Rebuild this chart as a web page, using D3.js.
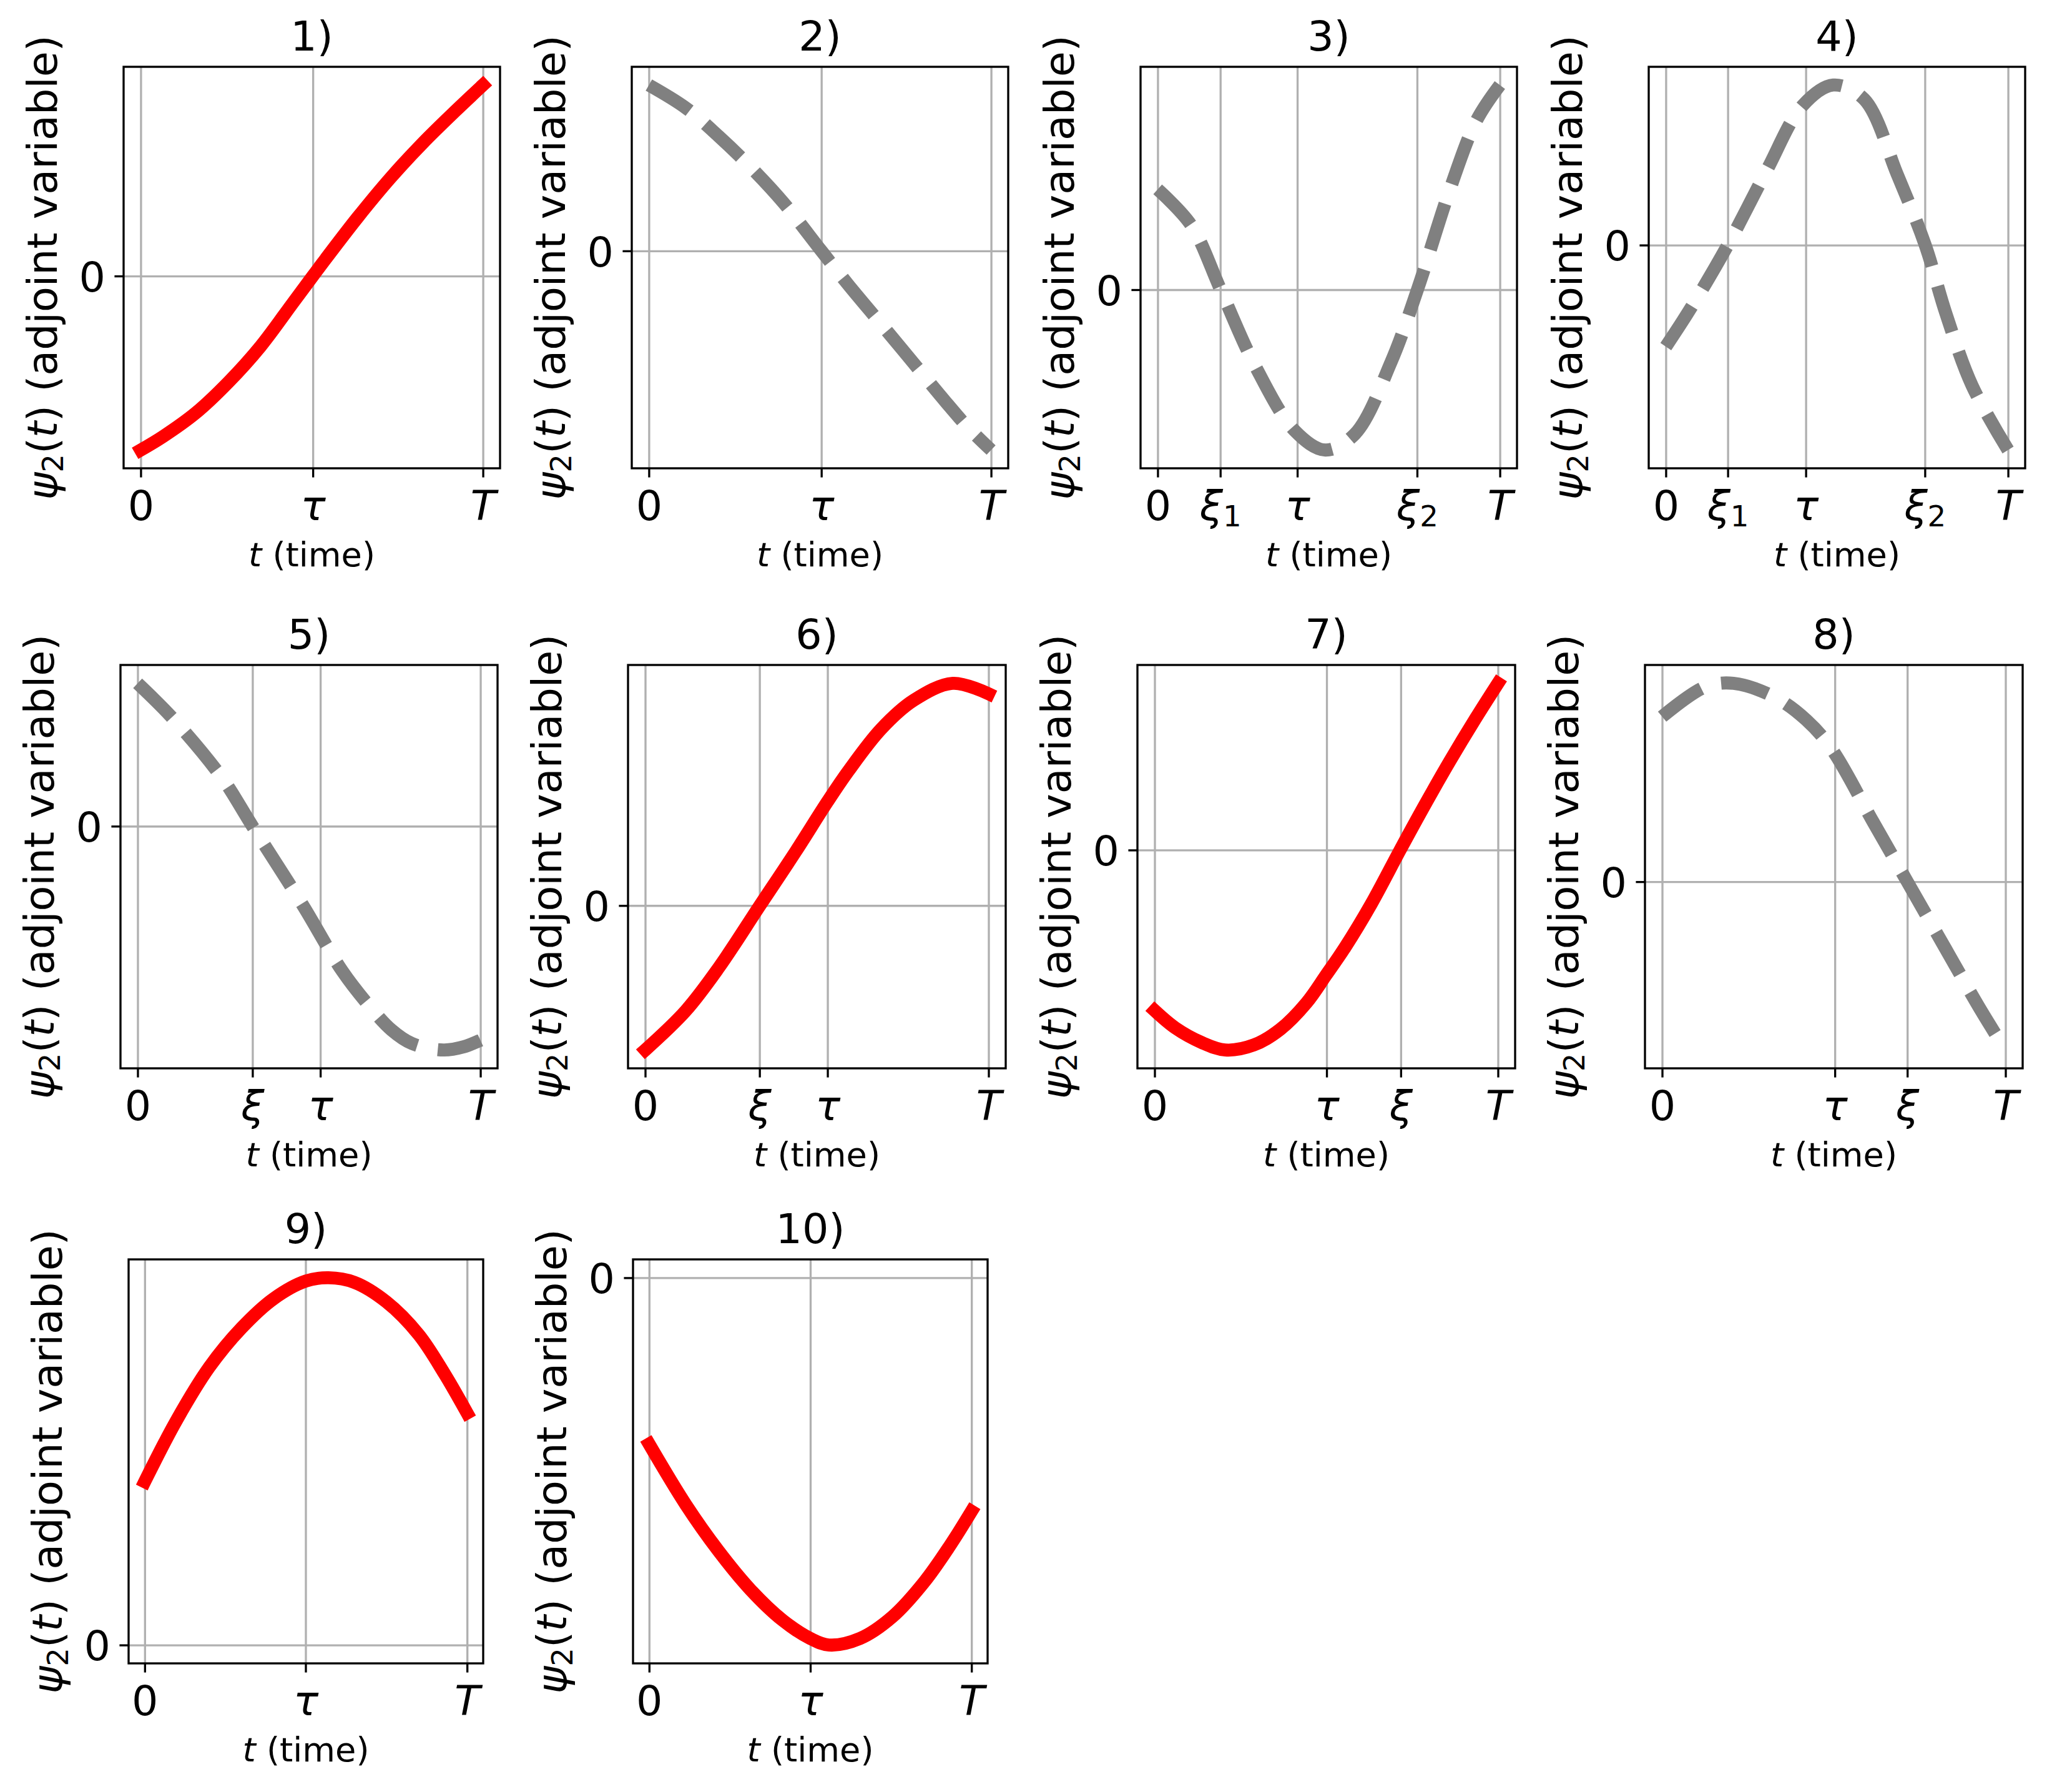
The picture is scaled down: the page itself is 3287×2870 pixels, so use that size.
<!DOCTYPE html>
<html>
<head>
<meta charset="utf-8">
<script src="https://cdn.jsdelivr.net/npm/d3@7/dist/d3.min.js"></script>
<style>
  body { margin: 0; background: #fff; }
  text { font-family: "DejaVu Sans", sans-serif; white-space: pre; }
</style>
</head>
<body>
<div class="chart"></div>
<script>
// ---- data (t as a fraction of T, psi2 in arbitrary units) ----
const titles = ["1)", "2)", "3)", "4)", "5)", "6)", "7)", "8)", "9)", "10)"];

const t1 = [0, 0.066, 0.161, 0.256, 0.350, 0.445, 0.503, 0.540, 0.634, 0.729, 0.824, 0.919, 1];
const psi1 = [-2.67, -2.46, -2.10, -1.63, -1.08, -0.41, 0.00, 0.26, 0.90, 1.50, 2.04, 2.53, 2.93];

const t2 = [0, 0.108, 0.203, 0.298, 0.393, 0.504, 0.583, 0.677, 0.772, 0.867, 0.930, 1];
const psi2 = [2.54, 2.19, 1.76, 1.28, 0.74, 0.00, -0.52, -1.11, -1.71, -2.31, -2.69, -3.05];

const t3 = [0, 0.098, 0.184, 0.284, 0.400, 0.490, 0.577, 0.682, 0.759, 0.854, 0.931, 1];
const psi3 = [1.54, 0.99, 0.00, -1.16, -2.16, -2.46, -2.21, -1.11, 0.00, 1.54, 2.59, 3.14];

const t4 = [0, 0.074, 0.181, 0.294, 0.399, 0.489, 0.580, 0.676, 0.758, 0.819, 0.895, 1];
const psi4 = [-1.56, -0.96, 0.00, 1.14, 2.14, 2.46, 2.24, 1.09, 0.00, -1.06, -2.16, -3.15];

const t5 = [0, 0.103, 0.245, 0.335, 0.483, 0.597, 0.675, 0.740, 0.800, 0.892, 0.952, 1];
const psi5 = [2.19, 1.65, 0.75, 0.00, -1.22, -2.22, -2.75, -3.12, -3.33, -3.43, -3.38, -3.28];

const t6 = [0, 0.118, 0.213, 0.334, 0.440, 0.531, 0.592, 0.687, 0.782, 0.896, 1];
const psi6 = [-2.21, -1.61, -0.96, 0.00, 0.84, 1.59, 2.06, 2.70, 3.14, 3.40, 3.24];

const t7 = [0, 0.061, 0.137, 0.206, 0.289, 0.366, 0.442, 0.500, 0.555, 0.631, 0.715, 0.783, 0.859, 0.935, 1];
const psi7 = [-2.56, -2.84, -3.07, -3.19, -3.11, -2.86, -2.44, -1.99, -1.55, -0.86, 0.00, 0.68, 1.41, 2.10, 2.66];

const t8 = [0, 0.123, 0.208, 0.331, 0.420, 0.492, 0.616, 0.714, 0.824, 0.928, 1];
const psi8 = [2.52, 2.97, 3.03, 2.81, 2.47, 2.04, 0.90, 0.00, -1.01, -1.96, -2.57];

const t9 = [0, 0.1, 0.2, 0.3, 0.4, 0.5, 0.57, 0.65, 0.75, 0.85, 0.93, 1];
const psi9 = [2.50, 3.45, 4.25, 4.85, 5.30, 5.57, 5.62, 5.55, 5.25, 4.75, 4.15, 3.55];

const t10 = [0, 0.114, 0.214, 0.314, 0.414, 0.5, 0.558, 0.654, 0.754, 0.854, 0.934, 1];
const psi10 = [-2.55, -3.48, -4.18, -4.78, -5.25, -5.53, -5.63, -5.53, -5.20, -4.66, -4.10, -3.58];

// x tick positions and their labels ("_" starts a subscript)
const ticks1 = [0, 0.503, 1], tickLabels1 = ["0", "τ", "T"];
const ticks2 = [0, 0.504, 1], tickLabels2 = ["0", "τ", "T"];
const ticks3 = [0, 0.183, 0.408, 0.758, 1], tickLabels3 = ["0", "ξ_1", "τ", "ξ_2", "T"];
const ticks4 = [0, 0.181, 0.409, 0.757, 1], tickLabels4 = ["0", "ξ_1", "τ", "ξ_2", "T"];
const ticks5 = [0, 0.335, 0.533, 1], tickLabels5 = ["0", "ξ", "τ", "T"];
const ticks6 = [0, 0.333, 0.531, 1], tickLabels6 = ["0", "ξ", "τ", "T"];
const ticks7 = [0, 0.501, 0.717, 1], tickLabels7 = ["0", "τ", "ξ", "T"];
const ticks8 = [0, 0.503, 0.714, 1], tickLabels8 = ["0", "τ", "ξ", "T"];
const ticks9 = [0, 0.499, 1], tickLabels9 = ["0", "τ", "T"];
const ticks10 = [0, 0.5, 1], tickLabels10 = ["0", "τ", "T"];

const yTicks = [0], yTickLabels = ["0"];

const panels = [
  {t: t1, psi: psi1, ticks: ticks1, labels: tickLabels1},
  {t: t2, psi: psi2, ticks: ticks2, labels: tickLabels2},
  {t: t3, psi: psi3, ticks: ticks3, labels: tickLabels3},
  {t: t4, psi: psi4, ticks: ticks4, labels: tickLabels4},
  {t: t5, psi: psi5, ticks: ticks5, labels: tickLabels5},
  {t: t6, psi: psi6, ticks: ticks6, labels: tickLabels6},
  {t: t7, psi: psi7, ticks: ticks7, labels: tickLabels7},
  {t: t8, psi: psi8, ticks: ticks8, labels: tickLabels8},
  {t: t9, psi: psi9, ticks: ticks9, labels: tickLabels9},
  {t: t10, psi: psi10, ticks: ticks10, labels: tickLabels10}
];

// ---- layout and styles ----
const width = 3287, height = 2870;
const pt = 300 / 72;
const boxLeft = [198, 1012, 1827, 2641, 193, 1006, 1822, 2635, 206, 1014];
const boxRight = [801, 1615, 2430, 3244, 797, 1611, 2427, 3240, 774, 1582];
const rowTop = [107, 1065, 2017];
const rowBottom = [750, 1711, 2664];
const lineKind = ["solid", "dashed", "dashed", "dashed", "dashed", "solid", "solid", "dashed", "solid", "solid"];

const fontBig = 16 * pt;
const fontXLabel = 13 * pt;
const lw = 5 * pt;
const thin = 0.8 * pt;
const tickLen = 3.5 * pt;
const tickPad = 3.5 * pt;

const svg = d3.select('.chart')
  .append('svg')
  .attr('width', width)
  .attr('height', height)
  .attr('viewBox', `0 0 ${width} ${height}`);

svg.append('rect').attr('width', width).attr('height', height).attr('fill', '#fff');

// label like "ξ_1" -> italic symbol with upright subscript
function mathLabel(text, label, size) {
  const parts = label.split('_');
  const upright = /^[0-9]+$/.test(parts[0]);
  text.append('tspan').text(parts[0]).style('font-style', upright ? 'normal' : 'italic');
  if (parts[1]) {
    text.append('tspan').text(parts[1])
      .attr('font-size', size * 0.7)
      .attr('dy', size * 0.15);
  }
}

panels.forEach(function(p, i) {
  const row = Math.floor(i / 4);
  const left = boxLeft[i], right = boxRight[i];
  const top = rowTop[row], bottom = rowBottom[row];

  const tExt = d3.extent(p.t);
  const tPad = 0.05 * (tExt[1] - tExt[0]);
  const x = d3.scaleLinear().domain([tExt[0] - tPad, tExt[1] + tPad]).range([left, right]);

  const vExt = d3.extent(p.psi.concat([0]));
  const vPad = 0.05 * (vExt[1] - vExt[0]);
  const y = d3.scaleLinear().domain([vExt[0] - vPad, vExt[1] + vPad]).range([bottom, top]);

  const g = svg.append('g').attr('class', 'panel');

  g.append('clipPath').attr('id', 'clip' + i)
    .append('rect')
    .attr('x', left).attr('y', top)
    .attr('width', right - left).attr('height', bottom - top);

  // grid
  g.append('g').attr('class', 'grid')
    .attr('transform', 'translate(0,' + bottom + ')')
    .call(d3.axisBottom(x).tickValues(p.ticks).tickSize(-(bottom - top)).tickFormat(''))
    .call(s => s.select('.domain').remove())
    .selectAll('line').attr('stroke', '#b0b0b0').attr('stroke-width', thin);

  g.append('g').attr('class', 'grid')
    .attr('transform', 'translate(' + left + ',0)')
    .call(d3.axisLeft(y).tickValues(yTicks).tickSize(-(right - left)).tickFormat(''))
    .call(s => s.select('.domain').remove())
    .selectAll('line').attr('stroke', '#b0b0b0').attr('stroke-width', thin);

  // the curve
  const line = d3.line()
    .x((d, k) => x(p.t[k]))
    .y(d => y(d))
    .curve(d3.curveCatmullRom.alpha(0.5));

  const path = g.append('path')
    .datum(p.psi)
    .attr('d', line)
    .attr('fill', 'none')
    .attr('stroke-width', lw)
    .attr('stroke-linejoin', 'round')
    .attr('clip-path', 'url(#clip' + i + ')');

  if (lineKind[i] === 'solid') {
    path.attr('stroke', '#ff0000').attr('stroke-linecap', 'square');
  } else {
    path.attr('stroke', '#808080').attr('stroke-linecap', 'butt')
      .attr('stroke-dasharray', (3.7 * lw) + ',' + (1.6 * lw));
  }

  // spines
  g.append('rect')
    .attr('x', left).attr('y', top)
    .attr('width', right - left).attr('height', bottom - top)
    .attr('fill', 'none').attr('stroke', '#000').attr('stroke-width', thin);

  // x ticks
  const xAxis = g.append('g')
    .attr('transform', 'translate(0,' + bottom + ')')
    .call(d3.axisBottom(x).tickValues(p.ticks).tickSize(tickLen).tickSizeOuter(0).tickFormat(''));
  xAxis.select('.domain').remove();
  xAxis.selectAll('line').attr('stroke', '#000').attr('stroke-width', thin);
  xAxis.selectAll('.tick').each(function(d, k) {
    const txt = d3.select(this).append('text')
      .attr('x', 0).attr('y', 83)
      .attr('text-anchor', 'middle')
      .attr('fill', '#000')
      .attr('font-size', fontBig);
    mathLabel(txt, p.labels[k], fontBig);
  });

  // y tick
  const yAxis = g.append('g')
    .attr('transform', 'translate(' + left + ',0)')
    .call(d3.axisLeft(y).tickValues(yTicks).tickSize(tickLen).tickSizeOuter(0).tickFormat(''));
  yAxis.select('.domain').remove();
  yAxis.selectAll('line').attr('stroke', '#000').attr('stroke-width', thin);
  yAxis.selectAll('.tick').each(function(d, k) {
    d3.select(this).append('text')
      .attr('x', -(tickLen + tickPad)).attr('y', 0.729 * fontBig / 2)
      .attr('text-anchor', 'end')
      .attr('fill', '#000')
      .attr('font-size', fontBig)
      .text(yTickLabels[k]);
  });

  // title
  g.append('text')
    .attr('x', (left + right) / 2).attr('y', top - 26)
    .attr('text-anchor', 'middle')
    .attr('font-size', fontBig)
    .text(titles[i]);

  // x label
  const xl = g.append('text')
    .attr('x', (left + right) / 2).attr('y', bottom + 157)
    .attr('text-anchor', 'middle')
    .attr('font-size', fontXLabel);
  xl.append('tspan').text('t').style('font-style', 'italic');
  xl.append('tspan').text(' (time)');

  // y label
  const yl = g.append('text')
    .attr('transform', 'translate(' + (left - 107) + ',' + ((top + bottom) / 2) + ') rotate(-90)')
    .attr('text-anchor', 'middle')
    .attr('font-size', fontBig);
  yl.append('tspan').text('ψ').style('font-style', 'italic');
  yl.append('tspan').text('2').attr('font-size', fontBig * 0.7).attr('dy', fontBig * 0.15);
  yl.append('tspan').text('(').attr('dy', -fontBig * 0.15);
  yl.append('tspan').text('t').style('font-style', 'italic');
  yl.append('tspan').text(') (adjoint variable)');
});
</script>
</body>
</html>
